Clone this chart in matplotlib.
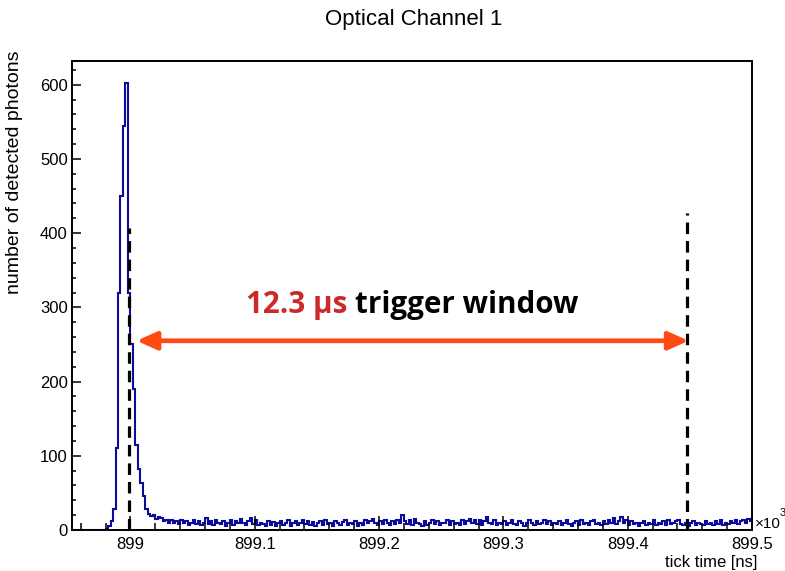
import matplotlib
matplotlib.use("Agg")
import matplotlib.pyplot as plt
import numpy as np
from matplotlib.patches import FancyArrowPatch
from matplotlib.ticker import MultipleLocator

# Histogram binning (x in units of 10^3 ns)
bin_start = 898.952
bin_width = 0.002

# Photon counts per bin
counts = [
    0, 0, 0, 0, 0, 0, 0, 0, 0, 0, 0, 0, 0, 0,
    2, 5, 12, 28, 110, 320, 450, 545, 603, 320, 250, 190, 115, 82, 63, 46, 28, 22, 19, 20, 15, 17,
    16, 12, 14, 10, 13, 9, 12, 8, 13, 10, 12, 7, 10, 14, 8, 12, 7, 10, 16, 8,
    12, 7, 13, 10, 8, 12, 6, 10, 13, 7, 12, 9, 15, 10, 7, 12, 16, 8, 13, 7,
    10, 8, 6, 12, 7, 11, 5, 9, 12, 7, 10, 13, 6, 9, 12, 7, 10, 14, 8, 12,
    7, 11, 6, 9, 12, 7, 13, 8, 10, 6, 12, 9, 7, 11, 14, 7, 10, 8, 12, 6,
    10, 7, 13, 9, 12, 15, 10, 7, 12, 8, 13, 10, 7, 12, 8, 13, 10, 20, 12, 8,
    13, 7, 15, 10, 8, 6, 12, 7, 10, 13, 8, 12, 7, 10, 9, 14, 7, 12, 8, 10,
    7, 13, 8, 12, 15, 10, 13, 8, 14, 7, 12, 18, 10, 8, 13, 7, 10, 8, 12, 7,
    10, 13, 8, 7, 12, 10, 6, 9, 13, 10, 7, 12, 8, 10, 14, 8, 12, 7, 10, 8,
    12, 7, 10, 13, 8, 6, 10, 12, 7, 13, 8, 10, 7, 12, 14, 8, 10, 7, 12, 8,
    13, 10, 16, 8, 12, 17, 10, 13, 7, 12, 8, 10, 6, 9, 12, 7, 10, 8, 13, 7,
    10, 8, 12, 7, 13, 8, 10, 12, 14, 8, 7, 10, 6, 9, 12, 7, 10, 8, 7, 12,
    8, 10, 7, 12, 8, 13, 7, 10, 8, 12, 10, 13, 8, 12, 14, 10, 15, 12,
]

# Trigger window markers
window_start = 898.999
window_end = 899.448
marker_tops = [407, 427]
arrow_level = 255
label_pos = (899.2265, 303)
label_red = "12.3 µs"
label_black = "trigger window"

x_limits = (898.953, 899.5)
y_limits = (0, 632)
x_ticks = [899.0, 899.1, 899.2, 899.3, 899.4, 899.5]
x_tick_labels = ["899", "899.1", "899.2", "899.3", "899.4", "899.5"]
y_ticks = [0, 100, 200, 300, 400, 500, 600]

W, H = 785, 571
fig = plt.figure(figsize=(W / 100, H / 100), dpi=100)
ax = fig.add_axes([72 / W, 1 - 530 / H, 680 / W, 469 / H])

tick_font = ["Liberation Sans", "DejaVu Sans"]

edges = bin_start + bin_width * np.arange(len(counts) + 1)
ax.stairs(counts, edges, color="#0c0c9c", lw=1.5, baseline=None)

ax.set_xlim(*x_limits)
ax.set_ylim(*y_limits)

ax.set_xticks(x_ticks)
ax.set_xticklabels(x_tick_labels, fontfamily=tick_font, fontsize=12)
ax.xaxis.set_minor_locator(MultipleLocator(0.02))
ax.set_yticks(y_ticks)
ax.set_yticklabels([str(v) for v in y_ticks], fontfamily=tick_font, fontsize=12)
ax.yaxis.set_minor_locator(MultipleLocator(20))

ax.tick_params(axis="x", which="major", direction="in", length=10, width=1.1, pad=5)
ax.tick_params(axis="x", which="minor", direction="in", length=5, width=1.1)
ax.tick_params(axis="y", which="major", direction="in", length=6.2, width=1.1, pad=3)
ax.tick_params(axis="y", which="minor", direction="in", length=3.2, width=1.1)
ax.tick_params(top=False, right=False, which="both")
for sp in ax.spines.values():
    sp.set_linewidth(1.4)

# Dashed trigger-window boundaries
for xv, top in zip([window_start, window_end], marker_tops):
    ax.plot([xv, xv], [0, top], color="black", lw=2.3,
            linestyle=(0, (3.6, 2.2)), solid_capstyle="butt", zorder=3)

# Double-headed arrow spanning the window
arrow = FancyArrowPatch((window_start + 0.006, arrow_level), (window_end + 0.001, arrow_level),
                        arrowstyle="<|-|>,head_length=0.6,head_width=0.27",
                        mutation_scale=20, color="#ff4a14", lw=3.4,
                        shrinkA=0, shrinkB=0, zorder=4)
ax.add_patch(arrow)

# Two-colour annotation
label_font = ["Open Sans", "DejaVu Sans"]
t1 = ax.text(0, 0, label_red + " ", color="#cc2a2a", fontsize=21.3, fontweight="bold",
             fontfamily=label_font, va="center", ha="left")
t2 = ax.text(0, 0, label_black, color="black", fontsize=21.3, fontweight="bold",
             fontfamily=label_font, va="center", ha="left")
fig.canvas.draw()
r = fig.canvas.get_renderer()
w1 = t1.get_window_extent(r).width
w2 = t2.get_window_extent(r).width
cx, cy = ax.transData.transform(label_pos)
inv = ax.transData.inverted()
x1 = cx - (w1 + w2) / 2
t1.set_position(inv.transform((x1, cy)))
t2.set_position(inv.transform((x1 + w1, cy)))

# Titles and axis labels
fig.text(414 / W, 1 - 20 / H, "Optical Channel 1", ha="center", va="center",
         fontsize=16, fontfamily=tick_font)
fig.text(15 / W, 1 - 50 / H, "number of detected photons", rotation=90,
         ha="center", va="top", fontsize=14, fontfamily=tick_font)
fig.text(757 / W, 1 - 562 / H, "tick time [ns]", ha="right", va="center",
         fontsize=12, fontfamily=tick_font)
fig.text(755 / W, 1 - 524 / H, "×10", ha="left", va="center",
         fontsize=11, fontfamily=tick_font)
fig.text(780 / W, 1 - 513 / H, "3", ha="left", va="center",
         fontsize=8, fontfamily=tick_font)

fig.savefig("out.png", dpi=100)
